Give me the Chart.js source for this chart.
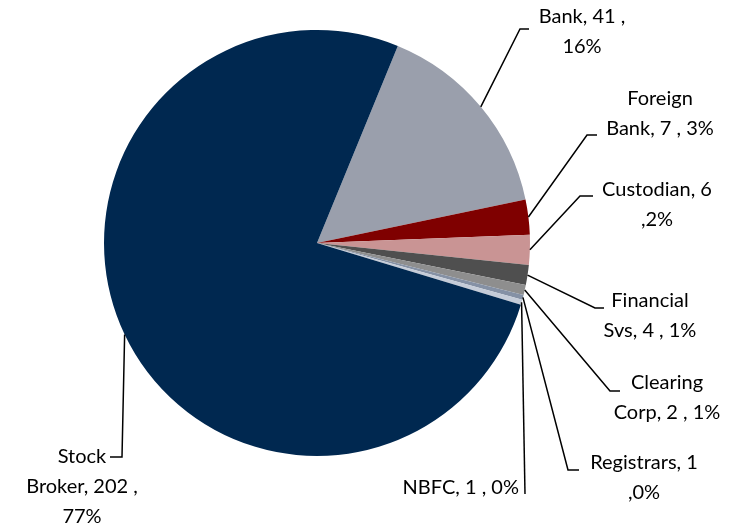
<!DOCTYPE html>
<html>
<head>
<meta charset="utf-8">
<script src="https://cdn.jsdelivr.net/npm/chart.js@4/dist/chart.umd.min.js"></script>
<style>
html,body{margin:0;padding:0;background:#fff;}
canvas{display:block;}
</style>
</head>
<body>
<canvas id="c" width="744" height="528"></canvas>
<script>
const categories = ["Bank", "Foreign Bank", "Custodian", "Financial Svs", "Clearing Corp", "Registrars", "NBFC", "Stock Broker"];
const counts = [41, 7, 6, 4, 2, 1, 1, 202];
const percents = [16, 3, 2, 1, 1, 0, 0, 77];
const labelLines = [
  ["Bank, 41 ,", "16%"],
  ["Foreign", "Bank, 7 , 3%"],
  ["Custodian, 6", ",2%"],
  ["Financial", "Svs, 4 , 1%"],
  ["Clearing", "Corp, 2 , 1%"],
  ["Registrars, 1", ",0%"],
  ["NBFC, 1 , 0%"],
  ["Stock", "Broker, 202 ,", "77%"]
];
const colors = ["#9a9fac", "#7f0000", "#c99494", "#4f4f4f", "#8e8e8e", "#8591a5", "#c5ccd8", "#002850"];

// leader line elbow/end points and label anchor (layout only)
const layout = [
  {elbow:[520,29],  end:[529,29],  tx:582, ty:17,  align:"center"},
  {elbow:[587,135], end:[597,135], tx:660, ty:99,  align:"center"},
  {elbow:[580,196], end:[593,196], tx:657, ty:190, align:"center"},
  {elbow:[595,308], end:[604,308], tx:650, ty:301, align:"center"},
  {elbow:[610,391], end:[620,391], tx:667, ty:383, align:"center"},
  {elbow:[568,470], end:[579,470], tx:644, ty:463, align:"center"},
  {elbow:[525,494], end:[525,494], tx:519, ty:488, align:"right"},
  {elbow:[122,457], end:[110,457], tx:82,  ty:457, align:"center"}
];

const leaderPlugin = {
  id: 'leaders',
  afterDatasetsDraw(chart) {
    const ctx = chart.ctx;
    const meta = chart.getDatasetMeta(0);
    ctx.save();
    ctx.strokeStyle = "#000";
    ctx.lineWidth = 1.5;
    meta.data.forEach((arc, i) => {
      const L = layout[i];
      const mid = (arc.startAngle + arc.endAngle) / 2;
      const sx = arc.x + Math.cos(mid) * arc.outerRadius;
      const sy = arc.y + Math.sin(mid) * arc.outerRadius;
      ctx.beginPath();
      ctx.moveTo(sx, sy);
      ctx.lineTo(L.elbow[0], L.elbow[1]);
      ctx.lineTo(L.end[0], L.end[1]);
      ctx.stroke();
    });
    ctx.fillStyle = "#000";
    ctx.font = "20px Lato, 'Open Sans', sans-serif";
    ctx.textBaseline = "middle";
    labelLines.forEach((lines, i) => {
      const L = layout[i];
      ctx.textAlign = L.align;
      lines.forEach((t, k) => ctx.fillText(t, L.tx, L.ty + k * 30));
    });
    ctx.restore();
  }
};

new Chart(document.getElementById('c'), {
  type: 'pie',
  data: {
    labels: categories,
    datasets: [{
      data: counts,
      backgroundColor: colors,
      borderWidth: 0
    }]
  },
  options: {
    responsive: false,
    animation: false,
    rotation: 22.3,
    layout: { padding: { top: 30, bottom: 72, left: 0, right: 110 } },
    plugins: { legend: { display: false }, tooltip: { enabled: false } }
  },
  plugins: [leaderPlugin]
});
</script>
</body>
</html>
